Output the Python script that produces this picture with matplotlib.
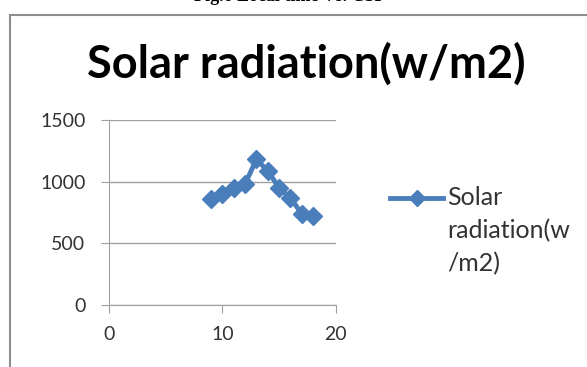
import numpy as np
import matplotlib.pyplot as plt
from matplotlib.patches import Rectangle
from matplotlib.lines import Line2D

# данные
hours = [9, 10, 11, 12, 13, 14, 15, 16, 17, 18]
radiation = [860, 900, 950, 980, 1180, 1090, 950, 870, 740, 720]
series_name = 'Solar\nradiation(w\n/m2)'
chart_title = 'Solar radiation(w/m2)'
caption = 'Fig.6 Local time Vs. CSP'

W, H = 587, 367
fig = plt.figure(figsize=(W / 100, H / 100), dpi=100)
blue = '#4a7ebb'

# рамка диаграммы (обрезана справа и снизу)
fig.patches.append(Rectangle((10 / W, -0.05), 1.2, 1 - 15 / H + 0.05,
                             transform=fig.transFigure, fill=False,
                             edgecolor='#8c8c8c', linewidth=1.5))

# подпись рисунка, верх срезан
fig.text(290 / W, 1 - 1 / H, caption, ha='center', va='baseline',
         fontsize=13, fontweight='bold', family='Liberation Serif')

fig.text(306 / W, 1 - 78 / H, chart_title, ha='center', va='baseline',
         fontsize=32.5, fontweight='bold', family='Lato')

ax = fig.add_axes([109 / W, 1 - 305 / H, (335.7 - 109) / W, (305 - 120) / H])
ax.plot(hours, radiation, color=blue, linewidth=3.5, marker='D',
        markersize=9.5)

ax.set_xlim(0, 20)
ax.set_ylim(0, 1500)
ax.set_xticks([0, 10, 20])
ax.set_yticks([0, 500, 1000, 1500])
ax.grid(axis='y', color='#a0a0a0', linewidth=1)
for s in ['top', 'right']:
    ax.spines[s].set_visible(False)
for s in ['left', 'bottom']:
    ax.spines[s].set_color('#a0a0a0')
ax.tick_params(colors='#a0a0a0', labelcolor='#333333', length=6,
               labelsize=14)
ax.tick_params(axis='y', pad=11)
ax.tick_params(axis='x', pad=9)
for lab in ax.get_xticklabels() + ax.get_yticklabels():
    lab.set_family('Lato')
ax.set_axisbelow(True)

# легенда вручную: линия с маркером на уровне первой строки
fig.lines.append(Line2D([390 / W, 443 / W], [1 - 198 / H] * 2,
                        transform=fig.transFigure, color=blue, linewidth=3.5))
fig.lines.append(Line2D([416.5 / W], [1 - 198 / H], transform=fig.transFigure,
                        color=blue, marker='D', markersize=8))
fig.text(447 / W, 1 - 186 / H, series_name, ha='left', va='top',
         fontsize=18, family='Lato', color='#333333', linespacing=1.5)

fig.savefig('out.png', dpi=100)
